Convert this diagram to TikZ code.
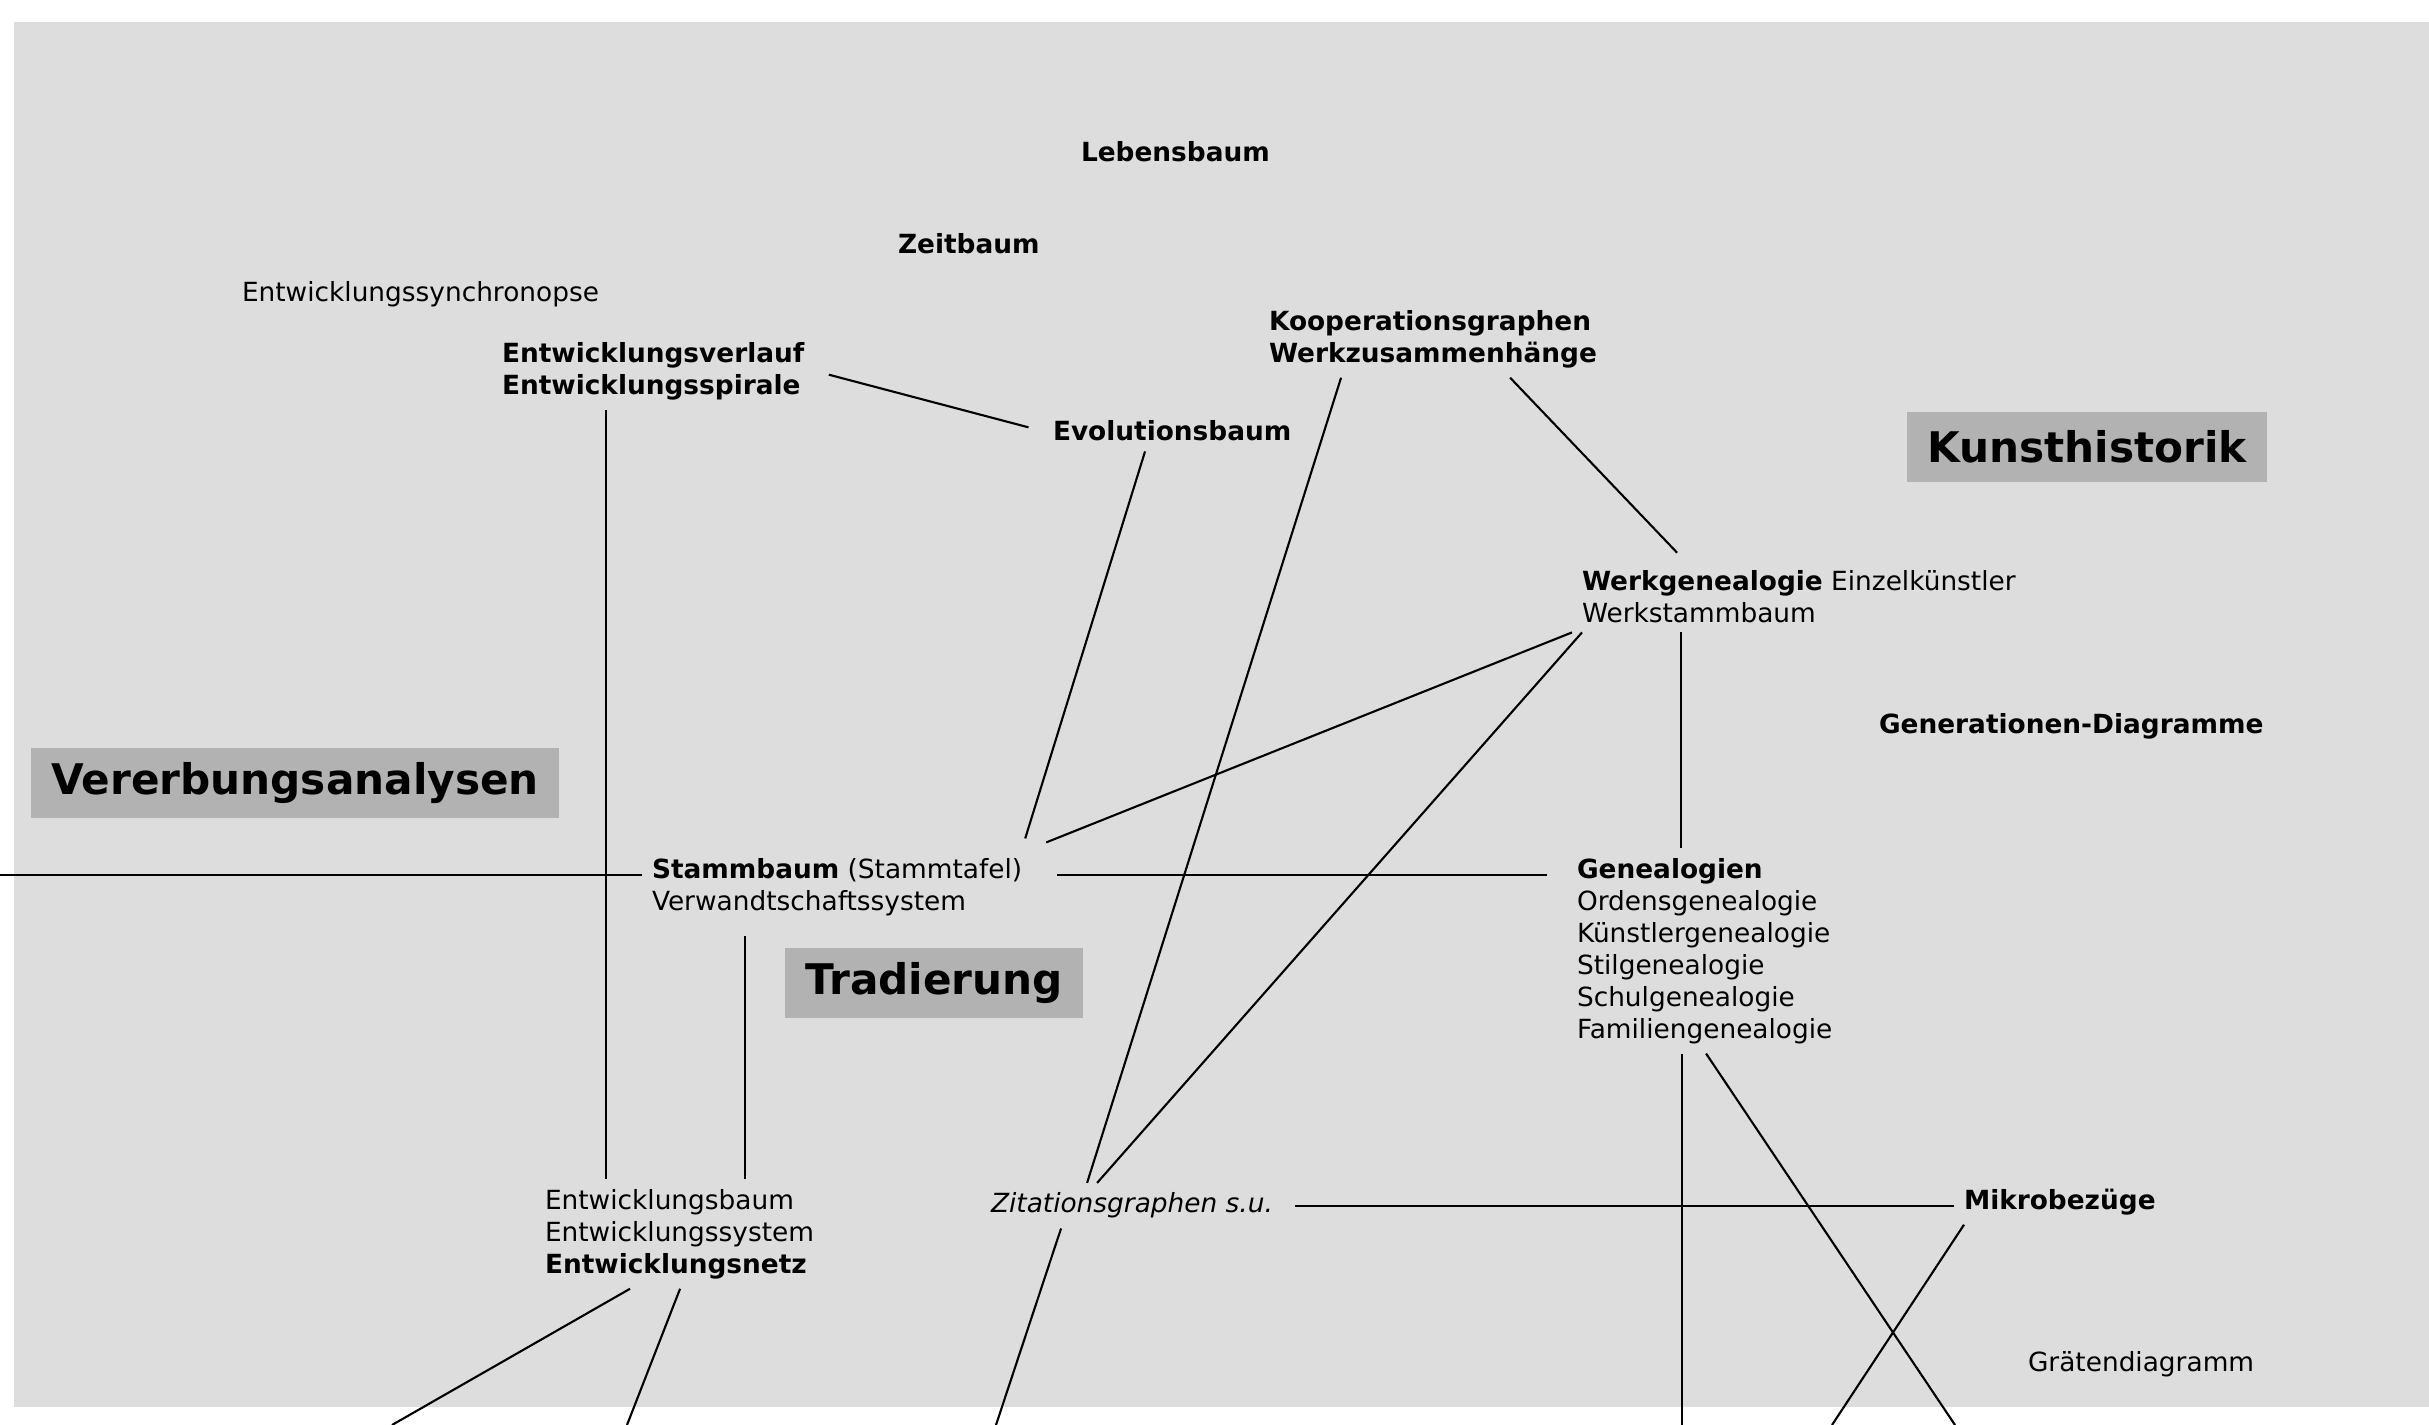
\documentclass[tikz,border=0pt]{standalone}
\usepackage{fontspec}
\setmainfont{DejaVu Sans}
\definecolor{bggray}{HTML}{DDDDDD}
\definecolor{boxgray}{HTML}{B2B2B2}
\begin{document}
\begin{tikzpicture}[x=0.01cm,y=-0.01cm,inner sep=0.1cm,outer sep=0pt,
  term/.style={font=\fontsize{7.5pt}{9.1pt}\selectfont},
  termb/.style={font=\fontsize{7.5pt}{9.1pt}\selectfont\bfseries},
  field/.style={fill=boxgray,font=\fontsize{12pt}{14pt}\selectfont\bfseries,inner xsep=0.2cm,inner ysep=0pt,minimum height=0.7cm},
  link/.style={line width=0.6pt}]
\useasboundingbox (0,0) rectangle (2429,1425);
\fill[bggray] (14,22) rectangle (2429,1407);
\node[termb,anchor=base west] (leben) at (1071,162) {Lebensbaum};
\node[termb,anchor=base west] (zeit) at (888,254) {Zeitbaum};
\node[term,anchor=base west] (synchro) at (232,302) {Entwicklungssynchronopse};
\node[termb,anchor=north west,align=left] (verlauf) at (492,332) {Entwicklungsverlauf\\Entwicklungsspirale};
\node[termb,anchor=north west,align=left] (koop) at (1259,300) {Kooperationsgraphen\\Werkzusammenhänge};
\node[termb,anchor=base west] (evol) at (1043,441) {Evolutionsbaum};
\node[field] (kunst) at (2087,447) {Kunsthistorik};
\node[term,anchor=north west,align=left] (werk) at (1572,560) {\textbf{Werkgenealogie} Einzelkünstler\\Werkstammbaum};
\node[termb,anchor=base west] (gener) at (1869,734) {Generationen-Diagramme};
\node[field] (verer) at (295,783) {Vererbungsanalysen};
\node[term,anchor=north west,align=left] (stamm) at (642,848) {\textbf{Stammbaum} (Stammtafel)\\Verwandtschaftssystem};
\node[term,anchor=north west,align=left] (geneal) at (1567,848) {\textbf{Genealogien}\\Ordensgenealogie\\Künstlergenealogie\\Stilgenealogie\\Schulgenealogie\\Familiengenealogie};
\node[field] (trad) at (934,983) {Tradierung};
\node[term,anchor=north west,align=left] (netz) at (535,1179) {Entwicklungsbaum\\Entwicklungssystem\\\textbf{Entwicklungsnetz}};
\node[term,anchor=base west] (zitat) at (981,1213) {\itshape Zitationsgraphen s.u.};
\node[termb,anchor=base west] (mikro) at (1954,1209) {Mikrobezüge};
\node[term,anchor=base west] (graeten) at (2018,1372) {Grätendiagramm};
\coordinate (edgeW) at (0,875);
\coordinate (v1) at ([xshift=1.14cm]verlauf.south west);
\coordinate (w1) at ([xshift=1.09cm]werk.south west);
\coordinate (s1) at ([xshift=1.03cm]stamm.south west);
\coordinate (g1) at ([xshift=1.15cm]geneal.south west);
\coordinate (offA) at (392,1425);
\coordinate (offB) at (627,1425);
\coordinate (offC) at (996,1425);
\coordinate (offE) at (1832,1425);
\coordinate (offF) at (1955,1425);
\draw[link,shorten <=0.15cm,shorten >=0.15cm] (verlauf.east) -- (evol.west);
\draw[link] (v1) -- (v1 |- netz.north);
\draw[link,shorten >=0.1cm] ([xshift=1.02cm]evol.south west) -- ([xshift=-0.1cm]stamm.north east);
\draw[link] ([xshift=0.82cm]koop.south west) -- ([xshift=1.06cm]zitat.north west);
\draw[link,shorten >=0.1cm] ([xshift=2.51cm]koop.south west) -- ([xshift=1.12cm]werk.north west);
\draw[link,shorten >=0.15cm] (werk.south west) -- (stamm.north east);
\draw[link] ([xshift=0.1cm]werk.south west) -- ([xshift=1.16cm]zitat.north west);
\draw[link] (w1) -- (w1 |- geneal.north);
\draw[link] (edgeW) -- (edgeW -| stamm.west);
\draw[link,shorten <=0.25cm,shorten >=0.2cm] (stamm.east |- edgeW) -- (geneal.west |- edgeW);
\draw[link,shorten <=0.1cm] (s1) -- (s1 |- netz.north);
\draw[link,shorten <=0.12cm] (zitat.east) -- (zitat.east -| mikro.west);
\draw[link] ([xshift=0.95cm]netz.south west) -- (offA);
\draw[link] ([xshift=1.45cm]netz.south west) -- (offB);
\draw[link] ([xshift=0.8cm]zitat.south west) -- (offC);
\draw[link] (g1) -- (g1 |- offA);
\draw[link] ([xshift=1.39cm]geneal.south west) -- (offF);
\draw[link] ([xshift=0.1cm]mikro.south west) -- (offE);
\end{tikzpicture}
\end{document}
